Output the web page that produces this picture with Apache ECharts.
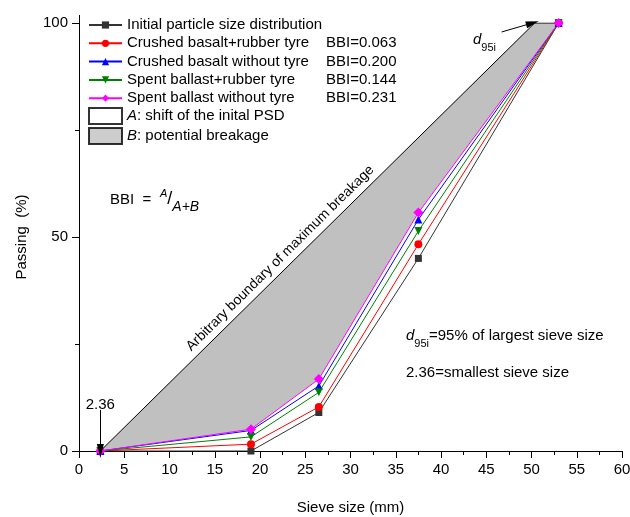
<!DOCTYPE html>
<html>
<head>
<meta charset="utf-8">
<script src="https://cdn.jsdelivr.net/npm/echarts@6/dist/echarts.min.js"></script>
<style>
  html, body { margin: 0; padding: 0; background: #fff; }
  #main { width: 630px; height: 517px; }
</style>
</head>
<body>
<div id="main"></div>
<script>
var sieve = [2.36, 19, 26.5, 37.5, 53];
var initialPSD = [0, 0, 9, 45, 100];
var basaltTyre = [0, 1.6, 10.3, 48.3, 100];
var basaltNoTyre = [0, 4.8, 15.2, 54.1, 100];
var ballastTyre = [0, 3.3, 13.7, 51.4, 100];
var ballastNoTyre = [0, 5.1, 16.8, 55.7, 100];
var boundaryX = [2.36, 50.35, 53];
var boundaryY = [0, 100, 100];
var bbi = {
  'Crushed basalt+rubber tyre': '0.063',
  'Crushed basalt without tyre': '0.200',
  'Spent ballast+rubber tyre': '0.144',
  'Spent ballast without tyre': '0.231'
};

var FONT = '"Liberation Sans", Arial, sans-serif';

function pairs(xs, ys) {
  return xs.map(function (x, i) { return [x, ys[i]]; });
}

function psdSeries(name, vals, color, symbol, size, rotate) {
  return {
    name: name,
    type: 'line',
    data: pairs(sieve, vals),
    symbol: symbol,
    symbolSize: size,
    symbolRotate: rotate || 0,
    lineStyle: { color: color, width: 1 },
    itemStyle: { color: color },
    z: 3
  };
}

(function(){
  var myChart = echarts.init(document.getElementById('main'));
  var option = {
    animation: false,
    backgroundColor: '#fff',
    textStyle: { fontFamily: FONT },
    grid: { left: 79, right: 8, top: 23, bottom: 66, outerBoundsMode: 'none', containLabel: false },
    legend: [{
      orient: 'vertical',
      left: 83,
      top: 12,
      itemWidth: 33,
      itemHeight: 9,
      itemGap: 2.3,
      selectedMode: false,
      data: ['Initial particle size distribution', 'Crushed basalt+rubber tyre',
        'Crushed basalt without tyre', 'Spent ballast+rubber tyre', 'Spent ballast without tyre'],
      textStyle: {
        fontFamily: FONT, fontSize: 15, color: '#000', lineHeight: 16,
        rich: {
          n: { fontFamily: FONT, fontSize: 15, color: '#000', width: 199 },
          b: { fontFamily: FONT, fontSize: 15, color: '#000' }
        }
      },
      formatter: function (name) {
        if (bbi[name]) return '{n|' + name + '}{b|BBI=' + bbi[name] + '}';
        return name;
      }
    }, {
      orient: 'vertical',
      left: 83,
      top: 102,
      itemWidth: 33,
      itemHeight: 16,
      itemGap: 2,
      selectedMode: false,
      data: [
        { name: 'A', icon: 'rect' },
        { name: 'B', icon: 'rect' }
      ],
      textStyle: {
        fontFamily: FONT, fontSize: 15, color: '#000',
        rich: {
          i: { fontFamily: FONT, fontSize: 15, color: '#000', fontStyle: 'italic' },
          n: { fontFamily: FONT, fontSize: 15, color: '#000' }
        }
      },
      formatter: function (name) {
        if (name === 'A') return '{i|A}{n|: shift of the inital PSD}';
        return '{i|B}{n|: potential breakage}';
      }
    }],
    xAxis: {
      type: 'value',
      min: 0, max: 60, interval: 5,
      name: 'Sieve size (mm)',
      nameLocation: 'middle',
      nameGap: 49,
      nameTextStyle: { fontFamily: FONT, fontSize: 15, color: '#000' },
      axisLine: { lineStyle: { color: '#000', width: 1 } },
      axisTick: { length: 7, lineStyle: { color: '#000' } },
      minorTick: { show: true, splitNumber: 2, length: 4, lineStyle: { color: '#000' } },
      splitLine: { show: false },
      axisLabel: { fontFamily: FONT, fontSize: 15, color: '#000', margin: 11 }
    },
    yAxis: {
      type: 'value',
      min: 0, max: 100, interval: 50,
      name: 'Passing  (%)',
      nameLocation: 'middle',
      nameGap: 50,
      nameTextStyle: { fontFamily: FONT, fontSize: 15, color: '#000' },
      axisLine: { show: true, lineStyle: { color: '#000', width: 1 } },
      axisTick: { show: true, length: 7, lineStyle: { color: '#000' } },
      minorTick: { show: true, splitNumber: 2, length: 4, lineStyle: { color: '#000' } },
      splitLine: { show: false },
      axisLabel: { fontFamily: FONT, fontSize: 15, color: '#000', margin: 11 }
    },
    series: [
      {
        // grey zone B: between the max-breakage boundary and the highest curve
        name: 'breakageZone',
        type: 'custom',
        data: [[0, 0]],
        z: 1,
        silent: true,
        renderItem: function (params, api) {
          var pts = [];
          boundaryX.forEach(function (x, i) { pts.push(api.coord([x, boundaryY[i]])); });
          for (var i = sieve.length - 1; i >= 0; i--) {
            pts.push(api.coord([sieve[i], ballastNoTyre[i]]));
          }
          return { type: 'polygon', shape: { points: pts }, style: { fill: '#c0c0c0', stroke: null } };
        }
      },
      {
        name: 'boundary',
        type: 'line',
        data: pairs(boundaryX, boundaryY),
        symbol: 'none',
        lineStyle: { color: '#000', width: 1 },
        z: 2,
        markLine: {
          silent: true,
          animation: false,
          symbol: 'none',
          data: [
            [
              { coord: [2.36, 9.6], symbol: 'none',
                label: { show: true, position: 'start', formatter: '2.36', fontFamily: FONT, fontSize: 15, color: '#000', distance: -2 },
                lineStyle: { color: '#000', width: 1, type: 'solid' } },
              { coord: [2.36, 0], symbol: 'triangle', symbolSize: [7, 14] }
            ],
            [
              { coord: [46.7, 97.9], symbol: 'none',
                label: { show: false },
                lineStyle: { color: '#000', width: 1, type: 'solid' } },
              { coord: [50.1, 100], symbol: 'triangle', symbolSize: [7, 13] }
            ],
            [
              { coord: [2.36, 0], symbol: 'none',
                label: { show: true, position: 'insideMiddleTop', formatter: 'Arbitrary boundary of maximum breakage',
                  fontFamily: FONT, fontSize: 14, color: '#000', distance: 4 },
                lineStyle: { color: 'rgba(0,0,0,0)', width: 0 } },
              { coord: [43.8, 86.4], symbol: 'none' }
            ]
          ]
        }
      },
      psdSeries('Initial particle size distribution', initialPSD, '#333333', 'rect', 7),
      psdSeries('Crushed basalt+rubber tyre', basaltTyre, '#ff0000', 'circle', 8),
      psdSeries('Crushed basalt without tyre', basaltNoTyre, '#0000ff', 'triangle', 8),
      psdSeries('Spent ballast+rubber tyre', ballastTyre, '#008000', 'triangle', 8, 180),
      psdSeries('Spent ballast without tyre', ballastNoTyre, '#ff00ff', 'diamond', 10),
      {
        name: 'A',
        type: 'scatter',
        data: [],
        itemStyle: { color: '#ffffff', borderColor: '#000', borderWidth: 1 }
      },
      {
        name: 'B',
        type: 'scatter',
        data: [],
        itemStyle: { color: '#c0c0c0', borderColor: '#000', borderWidth: 1 }
      }
    ],
    graphic: [
      {
        // the y axis line runs a little past 100
        type: 'line', z: 10, silent: true,
        shape: { x1: 79.5, y1: 15, x2: 79.5, y2: 23 },
        style: { stroke: '#000', lineWidth: 1 }
      },
      {
        type: 'text', left: 110, top: 188, z: 10,
        style: {
          text: '{n|BBI  =}{sup|A}{sl|/}{sub|A+B}',
          rich: {
            n: { fontFamily: FONT, fontSize: 15, fill: '#000', width: 50 },
            sup: { fontFamily: FONT, fontSize: 11, fontStyle: 'italic', fill: '#000', padding: [0, 0, 12, 0] },
            sl: { fontFamily: FONT, fontSize: 18, fill: '#000' },
            sub: { fontFamily: FONT, fontSize: 14, fontStyle: 'italic', fill: '#000', padding: [15, 0, 0, 0] }
          }
        }
      },
      {
        type: 'text', left: 473, top: 32, z: 10,
        style: {
          text: '{d|d}{s|95i}',
          rich: {
            d: { fontFamily: FONT, fontSize: 15, fontStyle: 'italic', fill: '#000' },
            s: { fontFamily: FONT, fontSize: 11, fill: '#000', padding: [16, 0, 0, 0] }
          }
        }
      },
      {
        type: 'text', left: 406, top: 328, z: 10,
        style: {
          text: '{d|d}{s|95i}{n|=95% of largest sieve size}',
          rich: {
            d: { fontFamily: FONT, fontSize: 15, fontStyle: 'italic', fill: '#000' },
            s: { fontFamily: FONT, fontSize: 11, fill: '#000', padding: [16, 0, 0, 0] },
            n: { fontFamily: FONT, fontSize: 15, fill: '#000' }
          }
        }
      },
      {
        type: 'text', left: 406, top: 365, z: 10,
        style: { text: '2.36=smallest sieve size', font: '15px ' + FONT, fill: '#000' }
      }
    ]
  };
  myChart.setOption(option);
})();
</script>
</body>
</html>
